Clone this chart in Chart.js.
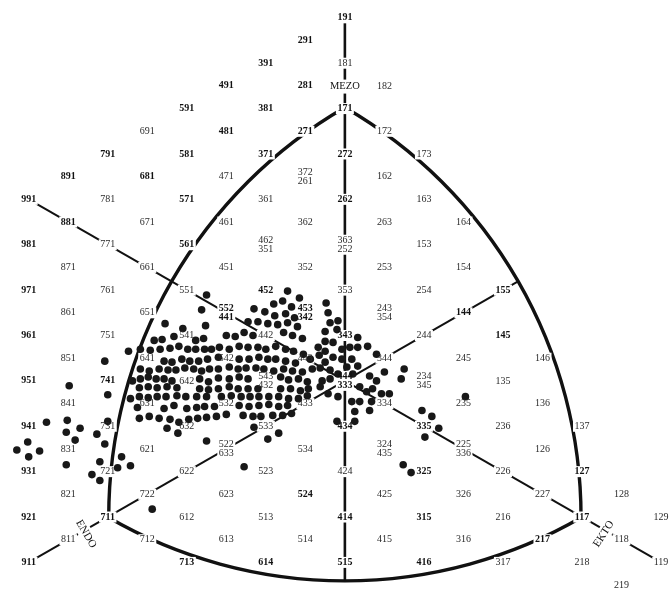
<!DOCTYPE html>
<html>
<head>
<meta charset="utf-8">
<script src="https://cdn.jsdelivr.net/npm/chart.js@4.4.1/dist/chart.umd.min.js"></script>
<style>
  html, body { margin: 0; padding: 0; background: #fff; }
  #wrap { width: 670px; height: 597px; position: relative; }
</style>
</head>
<body>
<div id="wrap"><canvas id="somatochart"></canvas></div>
<script>
/**
 * Somatochart (Sheldon): endo / mezo / ekto
 * position of a code = (ecto - endo, 2*meso - endo - ecto)
 */

// printed somatotype codes
var somatotypes = [
  "191","291","181","391","281","182","491","381","171","591","481","271","172",
  "691","581","371","272","173","791","891","681","471","162","991","781","571",
  "361","262","163","881","671","461","362","263","164","981","771","561","153",
  "871","661","451","352","253","154","971","761","551","452","353","254","155",
  "861","651","144","961","751","541","442","343","244","145","851","641","542",
  "443","344","245","146","951","741","642","135","841","631","532","433","334",
  "235","136","941","731","632","533","434","335","236","137","831","621","534",
  "126","931","721","622","523","424","325","226","127","821","722","623","524",
  "425","326","227","128","921","711","612","513","414","315","216","117","129",
  "811","712","613","514","415","316","217","118","911","713","614","515","416",
  "317","218","119","219"
];

// two codes printed one above the other at the same place
var stackedTop    = ["372","462","363","552","453","243","543","444","234","522","324","225"];
var stackedBottom = ["261","351","252","441","342","354","432","333","345","633","435","336"];

var boldCodes = ["191","291","281","381","591","791","891","991","881","981","971","961",
  "951","941","931","921","911","581","571","561","371","272","262","171","271","452",
  "453","342","552","441","343","444","434","524","414","515","614","315","416","144",
  "145","155","127","217","117","325","335","713","711","741","681","491","481","391"];

// axis names
var axisNames  = ["MEZO", "ENDO", "EKTO"];
var axisNameX  = [0, -6.55, 6.55];
var axisNameY  = [12.97, -6.75, -6.75];
var axisNameRot = [0, 60, -57];

// vertices of the curved triangle
var vertexCodes = ["171", "711", "117"];

// the three axis lines (chart units)
var axisLineX = [[-8, 8], [0, 0], [-8, 4.36]];
var axisLineY = [[8, -8], [16, -8.8], [-8, 4.36]];
var axisLineW = [2, 2.6, 2];

// individuals in the main cloud (chart units)
var cloudX = [
  -3.625, -4.55, -4.1, -3.525, -4.825, -4.625, -4.325, -3.775, -3.575,
  -5.475, -5.175, -4.925, -4.675, -4.425, -4.2, -3.975, -3.775, -3.55,
  -4.575, -4.375, -4.125, -3.925, -3.7, -3.475,
  -5.175, -4.95, -4.7, -4.475, -4.275, -4.05, -3.825, -3.625, -3.425,
  -5.375, -5.175, -4.975, -4.775, -4.575, -4.375, -3.675, -3.45,
  -5.2, -4.975, -4.75, -4.5, -4.25, -3.675, -3.45,
  -5.425, -5.2, -4.975, -4.75, -4.525, -4.25, -4.025, -3.75, -3.5,
  -5.25, -4.575, -4.325, -4.0, -3.75, -3.55,
  -5.2, -4.95, -4.7, -4.425, -4.2, -3.95, -3.725, -3.5,
  -4.5, -4.225, -3.5,
  -3.5, -1.45, -1.15, -1.575, -1.8, -1.35,
  -2.3, -2.025, -1.775, -1.5, -1.275,
  -2.45, -2.2, -1.95, -1.7, -1.45, -1.2,
  -3.0, -2.775, -2.55, -2.325, -1.55, -1.325, -1.075,
  -3.375, -3.175, -2.925, -2.675, -2.45, -2.2, -2.0, -1.75, -1.5, -1.3, -1.05,
  -3.2, -2.675, -2.425, -2.175, -1.95, -1.75, -1.5, -1.25,
  -3.2, -2.925, -2.7, -2.5, -2.25, -2.05, -1.8, -1.55, -1.325, -1.075,
  -3.2, -2.925, -2.675, -2.45, -1.625, -1.425, -1.175, -0.95,
  -3.2, -2.925, -2.7, -2.45, -2.2, -1.625, -1.375, -1.125,
  -3.125, -2.875, -2.625, -2.4, -2.175, -1.925, -1.675, -1.425, -1.175, -0.95,
  -3.3, -2.675, -2.425, -2.175, -1.925, -1.675, -1.45,
  -3.25, -3.0, -2.575, -2.325, -2.125, -1.825, -1.575, -1.35,
  -2.3, -1.95, -1.675,
  -0.475, -0.425, -0.175, -0.375, -0.5, -0.2, -0.5, -0.3, 0.325,
  -0.675, -0.5, -0.075, 0.125, 0.325, 0.575, 0.8,
  -0.875, -0.65, -0.5, -0.3, -0.075, 0.175, 0.325, 0.05,
  -0.825, -0.625, -0.375, -0.175, 0.2, 0.625, 1.0,
  -0.575, -0.375, 0.8, 1.425, 1.5,
  -0.925, -0.625, -0.425, 0.375, 0.55, 0.7, 0.925, 1.125,
  -0.175, 0.175, 0.375, 0.675,
  0.25, 0.625,
  -0.2, 0.25
];
var cloudY = [
  3.130, 2.522, 2.304, 2.435, 1.783, 1.826, 1.957, 1.783, 1.870,
  1.304, 1.391, 1.348, 1.391, 1.435, 1.522, 1.391, 1.391, 1.391,
  0.870, 0.826, 0.957, 0.870, 0.870, 0.957,
  0.522, 0.435, 0.522, 0.478, 0.478, 0.565, 0.522, 0.435, 0.522,
  0, 0.087, 0.174, 0.087, 0.087, 0, 0.087, -0.043,
  -0.304, -0.261, -0.304, -0.261, -0.304, -0.348, -0.391,
  -0.783, -0.696, -0.739, -0.696, -0.696, -0.652, -0.696, -0.696, -0.696,
  -1.174, -1.217, -1.087, -1.217, -1.174, -1.130,
  -1.652, -1.565, -1.652, -1.696, -1.826, -1.696, -1.652, -1.609,
  -2.087, -2.304, -2.652,
  3.783, 3.957, 3.652, 3.522, 3.391, 3.261,
  3.174, 3.043, 2.870, 2.957, 2.783,
  2.609, 2.609, 2.522, 2.478, 2.565, 2.391,
  2.0, 1.957, 2.130, 2.0, 2.130, 2.0, 1.870,
  1.391, 1.478, 1.391, 1.522, 1.478, 1.478, 1.391, 1.522, 1.391, 1.304, 1.174,
  1.043, 0.957, 0.957, 1.043, 0.957, 0.957, 0.870, 0.783,
  0.522, 0.609, 0.522, 0.565, 0.565, 0.522, 0.435, 0.522, 0.435, 0.391,
  0.130, 0.087, 0.174, 0.087, 0.174, 0.043, 0.087, -0.043,
  -0.348, -0.261, -0.348, -0.348, -0.348, -0.348, -0.348, -0.435,
  -0.696, -0.652, -0.696, -0.696, -0.696, -0.696, -0.696, -0.783, -0.783, -0.652,
  -1.130, -1.087, -1.130, -1.087, -1.043, -1.130, -1.087,
  -1.565, -1.478, -1.522, -1.565, -1.565, -1.522, -1.522, -1.435,
  -2.043, -2.565, -2.304,
  3.435, 3.0, 2.652, 2.565, 2.174, 2.261, 1.739, 1.696, 1.913,
  1.478, 1.304, 1.391, 1.478, 1.478, 1.522, 1.174,
  0.957, 1.130, 0.826, 1.043, 0.957, 0.957, 0.652, 0.609,
  0.522, 0.565, 0.478, 0.304, 0.304, 0.217, 0.391,
  0, 0.087, 0, 0.087, 0.522,
  -0.348, -0.261, -0.565, -0.261, -0.478, -0.348, -0.565, -0.565,
  -0.696, -0.913, -0.913, -0.913,
  -1.348, -1.304,
  -1.783, -1.783
];

// individuals scattered outside the cloud
var strayX = [
  -6.975, -6.0, -6.075, -7.55, -7.025, -6.7, -7.05, -6.825, -6.0, -6.275, -6.075,
  -8.025, -8.3, -7.725, -8.0, -7.05, -6.2, -5.65, -5.75, -5.425, -6.4, -6.2, -4.875,
  -2.55, 3.05, 1.95, 2.2, 2.375, 2.025, 1.475, 1.675
];
var strayY = [
  -0.217, -0.609, 0.870, -1.826, -1.739, -2.087, -2.261, -2.609, -1.783, -2.348, -2.783,
  -2.696, -3.043, -3.087, -3.348, -3.696, -3.565, -3.348, -3.826, -3.739, -4.13, -4.391, -5.652,
  -3.783, -0.696, -1.304, -1.565, -2.087, -2.478, -3.696, -4.043
];

function codePos(code) {
  var endo = +code[0], meso = +code[1], ecto = +code[2];
  return { x: ecto - endo, y: 2 * meso - endo - ecto };
}

var FONT = "'Liberation Serif', 'DejaVu Serif', serif";

function labelList() {
  var list = [];
  somatotypes.forEach(function (c) {
    var p = codePos(c);
    list.push({ lines: [c], x: p.x, y: p.y, bold: boldCodes.indexOf(c) >= 0 });
  });
  stackedTop.forEach(function (c, i) {
    var p = codePos(c);
    list.push({ lines: [c, stackedBottom[i]], x: p.x, y: p.y, bold: boldCodes.indexOf(c) >= 0 });
  });
  return list;
}
var labels = labelList();

var somatoPlugin = {
  id: 'somato',
  beforeDatasetsDraw: function (chart) {
    var ctx = chart.ctx, sx = chart.scales.x, sy = chart.scales.y;
    var v = vertexCodes.map(function (c) {
      var p = codePos(c);
      return { x: sx.getPixelForValue(p.x), y: sy.getPixelForValue(p.y) };
    });
    ctx.save();
    ctx.strokeStyle = '#111';
    ctx.lineWidth = 3.4;
    ctx.lineCap = 'round';
    // each side is an arc centred on the opposite vertex
    for (var i = 0; i < 3; i++) {
      var c = v[i], p = v[(i + 1) % 3], q = v[(i + 2) % 3];
      var r = (Math.hypot(p.x - c.x, p.y - c.y) + Math.hypot(q.x - c.x, q.y - c.y)) / 2;
      var a = Math.atan2(p.y - c.y, p.x - c.x);
      var b = Math.atan2(q.y - c.y, q.x - c.x);
      var d = b - a;
      while (d > Math.PI) d -= 2 * Math.PI;
      while (d < -Math.PI) d += 2 * Math.PI;
      ctx.beginPath();
      ctx.arc(c.x, c.y, r, a, a + d, d < 0);
      ctx.stroke();
    }
    ctx.restore();
  },
  beforeDatasetDraw: function (chart, args) {
    if (chart.data.datasets[args.index].label !== 'cloud') return;
    // white boxes under the printed codes break the lines
    var ctx = chart.ctx, sx = chart.scales.x, sy = chart.scales.y;
    ctx.save();
    ctx.fillStyle = '#fff';
    labels.forEach(function (l) {
      var px = sx.getPixelForValue(l.x), py = sy.getPixelForValue(l.y);
      ctx.font = (l.bold ? 'bold ' : '') + '10px ' + FONT;
      var w = ctx.measureText(l.lines[0]).width;
      var h = l.lines.length * 9 + 2;
      ctx.fillRect(px - w / 2 - 1.5, py - h / 2, w + 3, h);
    });
    axisNames.forEach(function (n, i) {
      var px = sx.getPixelForValue(axisNameX[i]), py = sy.getPixelForValue(axisNameY[i]);
      ctx.save();
      ctx.translate(px, py);
      ctx.rotate(axisNameRot[i] * Math.PI / 180);
      ctx.font = '11px ' + FONT;
      var w = ctx.measureText(n).width;
      ctx.fillRect(-w / 2 - 4, -7, w + 8, 14);
      ctx.restore();
    });
    ctx.restore();
  },
  afterDatasetsDraw: function (chart) {
    var ctx = chart.ctx, sx = chart.scales.x, sy = chart.scales.y;
    ctx.save();
    ctx.textAlign = 'center';
    ctx.textBaseline = 'middle';
    labels.forEach(function (l) {
      var px = sx.getPixelForValue(l.x), py = sy.getPixelForValue(l.y);
      ctx.font = (l.bold ? 'bold ' : '') + '10px ' + FONT;
      ctx.fillStyle = l.bold ? '#111' : '#2b2b2b';
      var top = py - (l.lines.length - 1) * 4.5;
      l.lines.forEach(function (t, k) {
        ctx.fillText(t, px, top + k * 9);
      });
    });
    axisNames.forEach(function (n, i) {
      var px = sx.getPixelForValue(axisNameX[i]), py = sy.getPixelForValue(axisNameY[i]);
      ctx.save();
      ctx.translate(px, py);
      ctx.rotate(axisNameRot[i] * Math.PI / 180);
      ctx.font = (i === 0 ? '10.5px ' : '11px ') + FONT;
      ctx.fillStyle = '#111';
      ctx.fillText(n, 0, 0);
      ctx.restore();
    });
    ctx.restore();
  }
};

var datasets = [];
axisLineX.forEach(function (xs, i) {
  datasets.push({
    label: 'axis' + i,
    data: xs.map(function (x, k) { return { x: x, y: axisLineY[i][k] }; }),
    showLine: true,
    borderColor: '#111',
    borderWidth: axisLineW[i],
    pointRadius: 0,
    order: 5
  });
});
datasets.push({
  label: 'cloud',
  data: cloudX.map(function (x, i) { return { x: x, y: cloudY[i] }; }),
  pointRadius: 3.8,
  pointBackgroundColor: '#181818',
  pointBorderWidth: 0,
  order: 2
});
datasets.push({
  label: 'strays',
  data: strayX.map(function (x, i) { return { x: x, y: strayY[i] }; }),
  pointRadius: 3.8,
  pointBackgroundColor: '#181818',
  pointBorderWidth: 0,
  order: 1
});

var chartOptions = {
  responsive: true,
  maintainAspectRatio: false,
  devicePixelRatio: 1,
  animation: false,
  layout: { padding: 0 },
  plugins: { legend: { display: false }, tooltip: { enabled: false } },
  scales: {
    x: { type: 'linear', min: -8.625, max: 8.125, display: false },
    y: { type: 'linear', min: -9.348, max: 16.609, display: false }
  }
};

var somatochart = new Chart(document.getElementById('somatochart'), {
  type: 'scatter',
  data: { datasets: datasets },
  options: chartOptions,
  plugins: [somatoPlugin]
});
</script>
</body>
</html>
